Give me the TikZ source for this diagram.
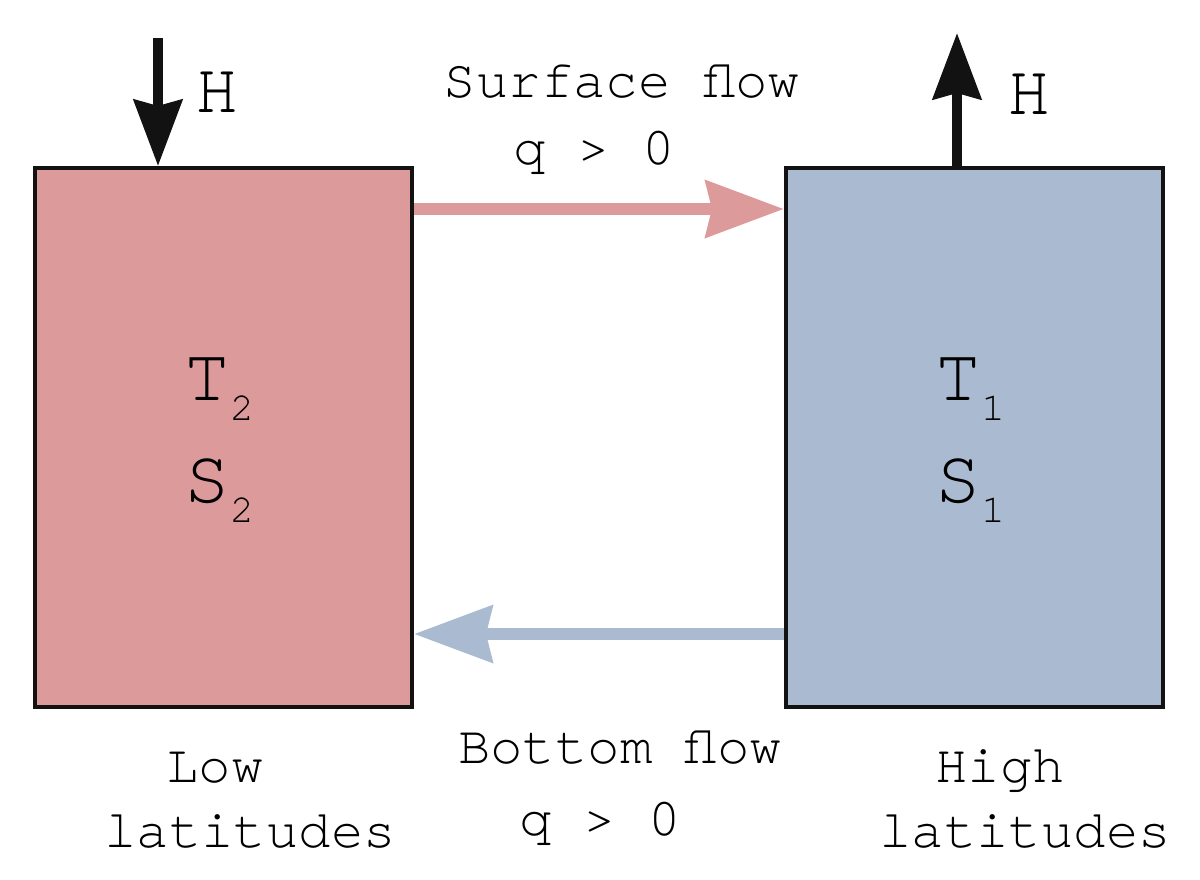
\documentclass[tikz,border=0pt]{standalone}
\usepackage{fontspec}
\setmainfont{texgyrecursor}[Extension=.otf,UprightFont=*-regular,BoldFont=*-bold]
\usetikzlibrary{arrows.meta,calc}
\definecolor{warm}{RGB}{221,154,155}
\definecolor{cold}{RGB}{170,187,209}
\definecolor{ink}{RGB}{17,18,17}
\tikzset{
  boxnode/.style={draw=ink,line width=2pt,minimum width=188.5pt,minimum height=269.5pt,inner sep=0pt},
  flowarrow/.style={line width=6pt,-{Stealth[length=39pt,width=28pt,inset=3pt]}},
  heatarrow/.style={draw=ink,line width=5pt,-{Stealth[length=33pt,width=24pt,inset=3pt]}},
  lbl/.style={font=\fontsize{27}{27}\selectfont,anchor=base,inner sep=0pt},
  hlbl/.style={font=\fontsize{36}{36}\selectfont,anchor=base,inner sep=0pt},
  var/.style={font=\fontsize{38}{38}\selectfont,anchor=base west,inner sep=0pt},
}
\newcommand{\subnum}[1]{{\fontsize{20}{20}\selectfont\raisebox{-10pt}{#1}}}
\begin{document}
\begin{tikzpicture}[x=0.5pt,y=-0.5pt]
\useasboundingbox[fill=white] (0,0) rectangle (1200,879);
\node[boxnode,fill=warm] (lbox) at (223.5,437.5) {};
\node[boxnode,fill=cold] (rbox) at (974.5,437.5) {};
% flows
\draw[flowarrow,draw=warm,fill=warm] ([yshift=-21.5pt]lbox.north east) -- ([yshift=-21.5pt]rbox.north west);
\draw[flowarrow,draw=cold,fill=cold] ([yshift=37.5pt]rbox.south west) -- ([yshift=37.5pt]lbox.south east);
% heat
\coordinate (hin) at (158,38);
\coordinate (hout) at (957,33);
\draw[heatarrow,fill=ink] (hin) -- (hin |- lbox.north);
\draw[heatarrow,fill=ink] (hout |- rbox.north) -- (hout);
\node[hlbl] (hl) at (217,112) {H};
\node[hlbl] (hr) at (1029,114) {H};
% labels
\node[lbl] (sf) at (622,97) {Surface flow};
\node[lbl] (sq) at (594,164) {q > 0};
\node[lbl] (bf) at (620,763) {Bottom flow};
\node[lbl] (bq) at (600,835) {q > 0};
\node[lbl] (low) at (215,782) {Low};
\node[lbl] (llat) at (250,847) {latitudes};
\node[lbl] (high) at (1000,782) {High};
\node[lbl] (hlat) at (1025,847) {latitudes};
% variables
\node[var] (t2) at (184,400) {T\subnum{2}};
\node[var] (s2) at (184,502) {S\subnum{2}};
\node[var] (t1) at (935,400) {T\subnum{1}};
\node[var] (s1) at (935,502) {S\subnum{1}};
\end{tikzpicture}
\end{document}
